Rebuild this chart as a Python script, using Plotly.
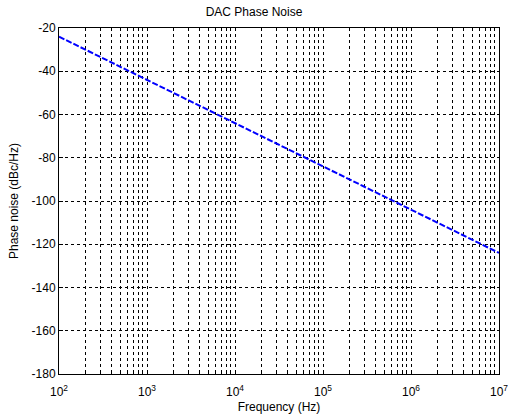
import numpy as np
import plotly.graph_objects as go

# Data
freq_hz = [1e2, 1e3, 1e4, 1e5, 1e6, 1e7]
phase_noise_dbc = [-24, -44, -64, -84, -104, -124]

x_decades = [2, 3, 4, 5, 6, 7]
y_ticks = [-180, -160, -140, -120, -100, -80, -60, -40, -20]
y_ticktext = [str(v) for v in y_ticks]

# log tick positions (major decades + minor 2..9)
xtickvals = []
xticktext = []
for d in x_decades:
    xtickvals.append(10 ** d)
    xticktext.append(f"10<sup>{d}</sup>")
    if d < x_decades[-1]:
        for m in range(2, 10):
            xtickvals.append(m * 10 ** d)
            xticktext.append("")

fig = go.Figure()
fig.add_trace(go.Scatter(
    x=freq_hz, y=phase_noise_dbc, mode="lines",
    line=dict(color="rgb(0,0,255)", width=2, dash="6px,2px"),
    showlegend=False,
))

font = dict(family="Liberation Sans, Arial, sans-serif", size=12, color="black")

fig.update_layout(
    width=508, height=419,
    margin=dict(l=59, r=9, t=28, b=45, autoexpand=False),
    paper_bgcolor="white", plot_bgcolor="white",
    font=font,
    title=dict(text="DAC Phase Noise", x=0.5, xanchor="center", y=1 - 12 / 419, yanchor="middle",
               font=dict(size=12)),
    xaxis=dict(
        type="log", range=[1.99999, 7.00001],
        tickvals=xtickvals, ticktext=xticktext,
        showgrid=True, gridcolor="black", griddash="3px,3px", gridwidth=1,
        showline=True, linecolor="black", linewidth=1, mirror=True,
        ticks="inside", ticklen=4, tickcolor="black",
        ticklabelstandoff=7, ticklabeloverflow="allow",
        automargin=False,
        zeroline=False,
        title=dict(text="Frequency (Hz)", standoff=4, font=dict(size=12)),
    ),
    yaxis=dict(
        range=[-180, -20],
        tickvals=y_ticks, ticktext=y_ticktext,
        showgrid=True, gridcolor="black", griddash="3px,3px", gridwidth=1,
        showline=True, linecolor="black", linewidth=1, mirror=True,
        ticks="inside", ticklen=4, tickcolor="black",
        automargin=False,
        zeroline=False,
        title=dict(text="Phase noise (dBc/Hz)", standoff=10, font=dict(size=12)),
    ),
)

fig.write_html("out.html")
